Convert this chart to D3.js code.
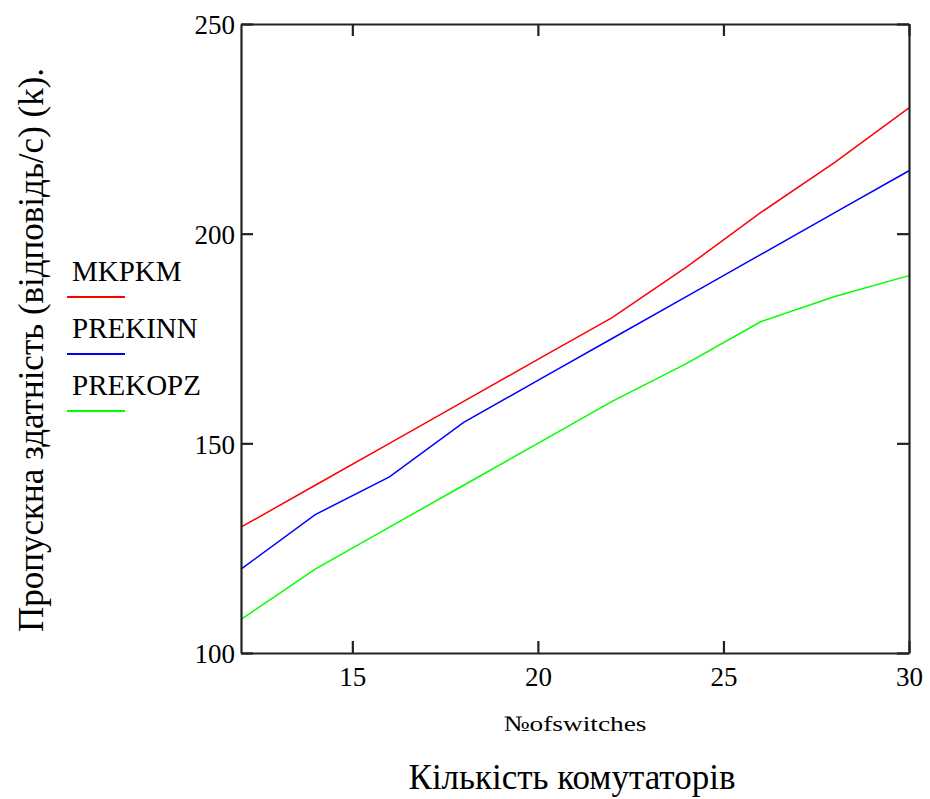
<!DOCTYPE html>
<html>
<head>
<meta charset="utf-8">
<script src="https://cdn.jsdelivr.net/npm/d3@7"></script>
<style>
  body { margin: 0; background: #fff; }
</style>
</head>
<body>
<div id="chart"></div>
<script>
// data
var switches = [12, 14, 16, 18, 20, 22, 24, 26, 28, 30];
var mkpkm   = [130, 140, 150, 160, 170, 180, 192, 205, 217, 230];
var prekinn = [120, 133, 142, 155, 165, 175, 185, 195, 205, 215];
var prekopz = [108, 120, 130, 140, 150, 160, 169, 179, 185, 190];
var seriesNames = ["MKPKM", "PREKINN", "PREKOPZ"];
var seriesColors = ["#ff0000", "#0000ff", "#00ff00"];
var xTicks = [15, 20, 25, 30];
var yTicks = [100, 150, 200, 250];

var FONT = "Liberation Serif";
var W = 930, H = 799;
var margin = {top: 24, right: 21, bottom: 146, left: 241};
var width = W - margin.left - margin.right,
    height = H - margin.top - margin.bottom;

var svg = d3.select("#chart").append("svg")
  .attr("width", W)
  .attr("height", H)
  .attr("font-family", FONT);

var g = svg.append("g")
  .attr("transform", "translate(" + margin.left + "," + margin.top + ")");

var x = d3.scaleLinear().domain([12, 30]).range([0, width]);
var y = d3.scaleLinear().domain([100, 250]).range([height, 0]);

// lines
var series = [mkpkm, prekinn, prekopz];
var line = d3.line()
  .x(function(d, i) { return x(switches[i]); })
  .y(function(d) { return y(d); });

series.forEach(function(s, i) {
  g.append("path")
    .datum(s)
    .attr("fill", "none")
    .attr("stroke", seriesColors[i])
    .attr("stroke-width", 1.5)
    .attr("d", line);
});

// frame with inward ticks on all four sides
var tick = 12;
var axB = g.append("g").attr("transform", "translate(0," + height + ")")
  .call(d3.axisBottom(x).tickValues(xTicks).tickSize(-tick).tickSizeOuter(0).tickFormat(d3.format("d")));
var axT = g.append("g")
  .call(d3.axisTop(x).tickValues(xTicks).tickSize(-tick).tickSizeOuter(0).tickFormat(""));
var axL = g.append("g")
  .call(d3.axisLeft(y).tickValues(yTicks).tickSize(-tick).tickSizeOuter(0).tickFormat(d3.format("d")));
var axR = g.append("g").attr("transform", "translate(" + width + ",0)")
  .call(d3.axisRight(y).tickValues(yTicks).tickSize(-tick).tickSizeOuter(0).tickFormat(""));

[axB, axT, axL, axR].forEach(function(a) {
  a.attr("font-family", FONT);
  a.select(".domain").attr("stroke", "#222").attr("stroke-width", 2.2);
  a.selectAll(".tick line").attr("stroke", "#222").attr("stroke-width", 2.2);
  a.selectAll(".tick text").attr("font-family", FONT).attr("font-size", 27).attr("fill", "#000");
});
axL.selectAll(".tick text").attr("x", -6).attr("dy", "0.36em");
axB.selectAll(".tick text").attr("y", 33).attr("dy", "0em");

// axis labels
svg.append("text")
  .attr("x", margin.left + width / 2)
  .attr("y", 731)
  .attr("text-anchor", "middle")
  .attr("font-family", FONT)
  .attr("font-size", 22)
  .attr("textLength", 143)
  .attr("lengthAdjust", "spacingAndGlyphs")
  .text("№ofswitches");

svg.append("text")
  .attr("x", 572)
  .attr("y", 789)
  .attr("text-anchor", "middle")
  .attr("font-family", FONT)
  .attr("font-size", 35)
  .text("Кількість комутаторів");

svg.append("text")
  .attr("transform", "translate(43,350) rotate(-90)")
  .attr("text-anchor", "middle")
  .attr("font-family", FONT)
  .attr("font-size", 35)
  .text("Пропускна здатність (відповідь/с) (k).");

// legend
var legend = svg.append("g");
seriesNames.forEach(function(name, i) {
  var ly = 281 + i * 57;
  legend.append("text")
    .attr("x", 72)
    .attr("y", ly)
    .attr("font-family", FONT)
    .attr("font-size", 29)
    .text(name);
  legend.append("line")
    .attr("x1", 67).attr("x2", 125)
    .attr("y1", ly + 16).attr("y2", ly + 16)
    .attr("stroke", seriesColors[i])
    .attr("stroke-width", 2);
});
</script>
</body>
</html>
